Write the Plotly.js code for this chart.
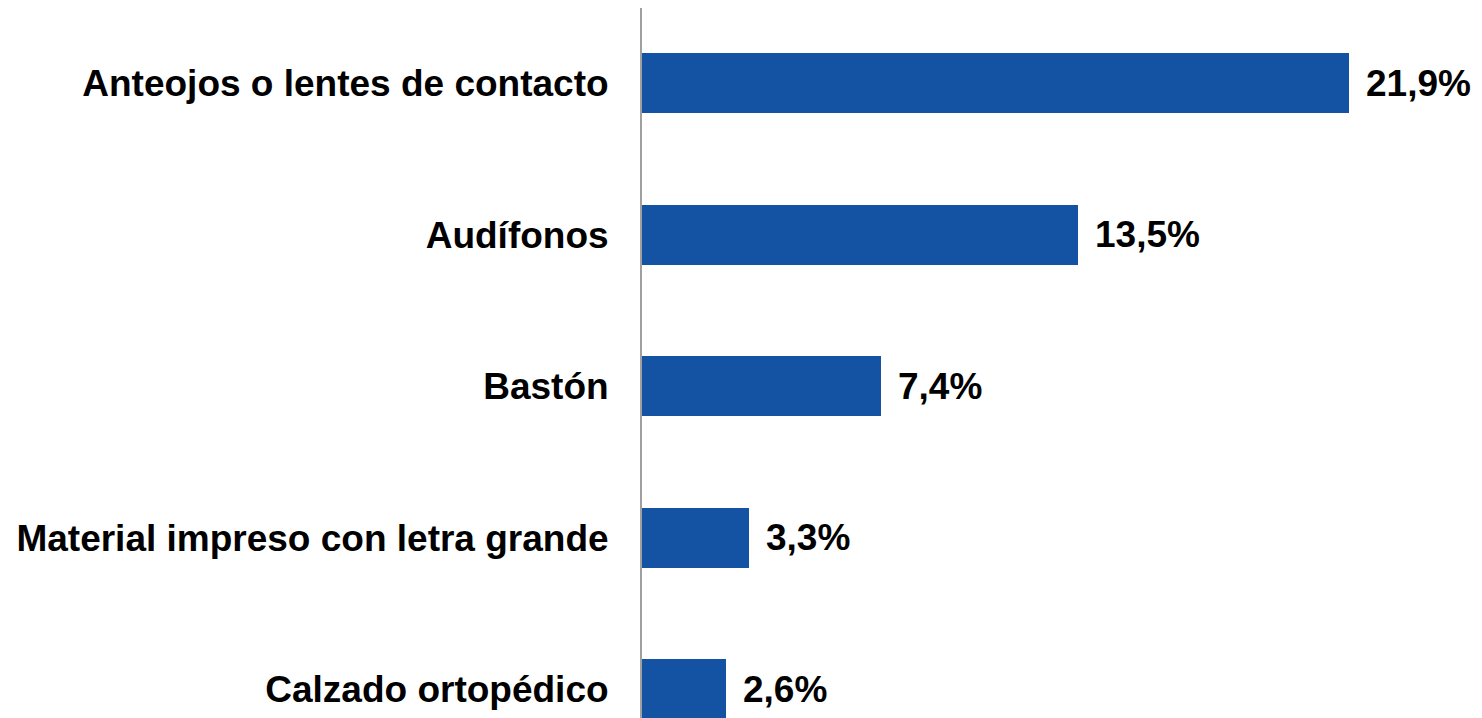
<!DOCTYPE html>
<html>
<head>
<meta charset="utf-8">
<script src="https://cdn.plot.ly/plotly-3.0.1.min.js"></script>
<style>html,body{margin:0;padding:0;background:#fff;}#chart{width:1482px;height:718px;}</style>
</head>
<body>
<div id="chart"></div>
<script>
const categories = [
  "Anteojos o lentes de contacto",
  "Audífonos",
  "Bastón",
  "Material impreso con letra grande",
  "Calzado ortopédico"
];
const values = [21.9, 13.5, 7.4, 3.3, 2.6];

const fmt = v => v.toFixed(1).replace('.', ',') + '%';
const font = {family: '"Liberation Sans", Arial, sans-serif', size: 37, color: '#000', weight: 'bold'};

const trace = {
  type: 'bar',
  orientation: 'h',
  y: categories,
  x: values,
  width: 0.396,
  marker: {color: '#1453A4'},
  hoverinfo: 'none'
};

const annotations = categories.map((c, i) => ({
  x: values[i], y: c, xref: 'x', yref: 'y',
  text: fmt(values[i]), showarrow: false,
  xanchor: 'left', yanchor: 'middle', xshift: 15,
  font: font
}));

const layout = {
  width: 1482, height: 718,
  margin: {l: 642, r: 100, t: 8, b: 0, pad: 0},
  paper_bgcolor: '#fff', plot_bgcolor: '#fff',
  showlegend: false,
  bargap: 0,
  xaxis: {range: [0, 22.91], showgrid: false, zeroline: false, showticklabels: false, showline: false, ticks: ''},
  yaxis: {
    type: 'category',
    range: [4.19, -0.497],
    showgrid: false, zeroline: false,
    showline: true, linecolor: '#a0a0a0', linewidth: 2,
    ticks: '', ticklabelstandoff: 24,
    tickfont: font
  },
  annotations: annotations
};

Plotly.newPlot('chart', [trace], layout, {displayModeBar: false, staticPlot: true});
</script>
</body>
</html>
